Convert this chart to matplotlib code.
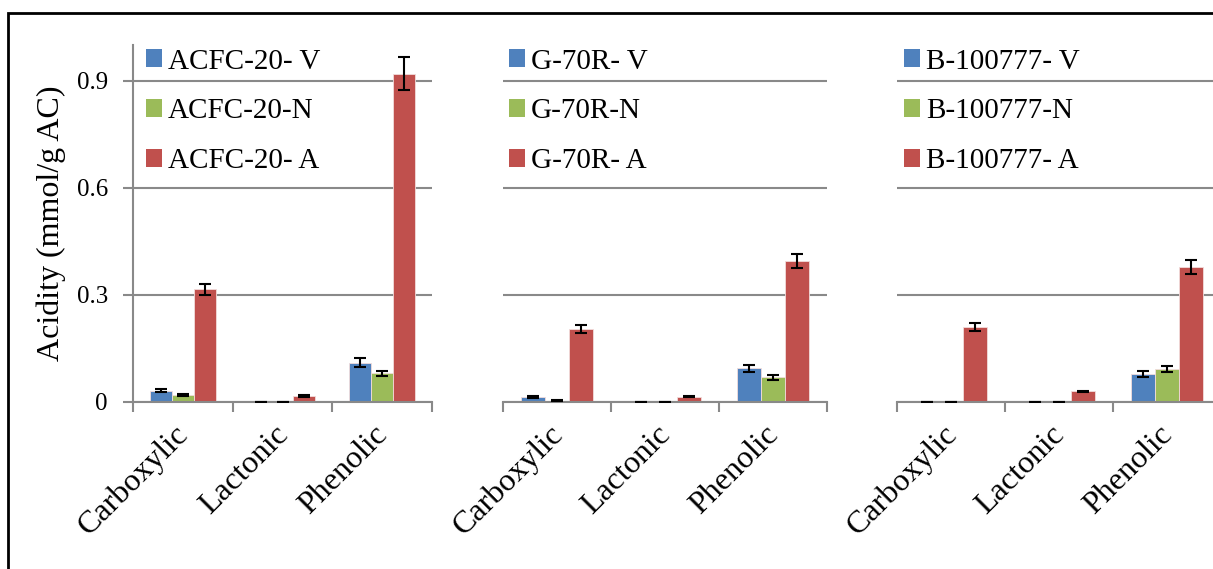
import numpy as np
import matplotlib.pyplot as plt
from matplotlib.patches import Patch, Rectangle
from matplotlib.transforms import ScaledTranslation

plt.rcParams['font.family'] = ['Liberation Serif', 'DejaVu Serif']

categories = ["Carboxylic", "Lactonic", "Phenolic"]
suffixes = ["- V", "-N", "- A"]
colors = ["#4F81BD", "#9BBB59", "#C0504D"]

# ACFC-20: values per treatment (V, N, A) over categories
acfc_v = [0.032, 0.0, 0.110]
acfc_n = [0.020, 0.0, 0.080]
acfc_a = [0.316, 0.017, 0.920]
acfc_v_err = [0.004, 0.0, 0.012]
acfc_n_err = [0.003, 0.0, 0.006]
acfc_a_err = [0.015, 0.002, 0.046]

# G-70R
g70_v = [0.014, 0.0, 0.094]
g70_n = [0.004, 0.0, 0.069]
g70_a = [0.204, 0.015, 0.395]
g70_v_err = [0.002, 0.0, 0.011]
g70_n_err = [0.001, 0.0, 0.007]
g70_a_err = [0.012, 0.002, 0.020]

# B-100777
b100_v = [0.0, 0.0, 0.078]
b100_n = [0.0, 0.0, 0.093]
b100_a = [0.209, 0.030, 0.378]
b100_v_err = [0.0, 0.0, 0.008]
b100_n_err = [0.0, 0.0, 0.008]
b100_a_err = [0.011, 0.002, 0.020]

panels = [
    ("ACFC-20", [acfc_v, acfc_n, acfc_a], [acfc_v_err, acfc_n_err, acfc_a_err]),
    ("G-70R", [g70_v, g70_n, g70_a], [g70_v_err, g70_n_err, g70_a_err]),
    ("B-100777", [b100_v, b100_n, b100_a], [b100_v_err, b100_n_err, b100_a_err]),
]

W, H = 1213, 569
fig = plt.figure(figsize=(W / 100, H / 100), dpi=100)

grid_c = "#898989"
lefts = [133, 503, 897]
widths = [299, 324, 324]
leg_off = [13, 6, 7]
bottom_px, top_px = 402, 45

x = np.arange(len(categories))
bw = 0.22
for i, (name, vals, errs) in enumerate(panels):
    ax = fig.add_axes([lefts[i] / W, 1 - bottom_px / H, widths[i] / W, (bottom_px - top_px) / H])
    for j in range(3):
        ax.bar(x + (j - 1) * bw, vals[j], bw, color=colors[j], edgecolor="#f2dcdb",
               linewidth=0.6, zorder=2, yerr=errs[j],
               error_kw=dict(ecolor="black", elinewidth=1.5, capsize=4, capthick=1.5, zorder=3))
    ax.set_xlim(-0.5, 2.5)
    ax.set_ylim(0, 1.0)
    ax.set_yticks([0, 0.3, 0.6, 0.9])
    ax.set_yticklabels(["0", "0.3", "0.6", "0.9"])
    ax.yaxis.grid(True, color=grid_c, linewidth=1.5, zorder=0)
    ax.set_axisbelow(True)
    for s in ["top", "right"]:
        ax.spines[s].set_visible(False)
    ax.spines["bottom"].set_color(grid_c)
    ax.spines["bottom"].set_linewidth(1.5)
    ax.spines["left"].set_color(grid_c)
    ax.spines["left"].set_linewidth(1.5)
    # category separators as ticks, names placed under each category
    ax.set_xticks([-0.5, 0.5, 1.5, 2.5])
    ax.set_xticklabels([])
    ax.tick_params(axis="x", length=7, width=1.5, color=grid_c, direction="out")
    lab_tr = ax.get_xaxis_transform() + ScaledTranslation(-9 / 100, -18 / 100, fig.dpi_scale_trans)
    for xi, cat in zip(x, categories):
        ax.text(xi, 0, cat, transform=lab_tr, rotation=45, ha="right", va="top",
                rotation_mode="anchor", fontsize=23)
    ax.tick_params(axis="y", length=7, width=1.5, color=grid_c, labelsize=18, pad=11)
    if i == 0:
        ax.set_ylabel("Acidity (mmol/g AC)", fontsize=23, labelpad=8)
    else:
        ax.spines["left"].set_visible(False)
        ax.tick_params(axis="y", length=0, labelleft=False)
    handles = [Patch(facecolor=colors[j], edgecolor="none") for j in range(3)]
    labels = [name + s for s in suffixes]
    ax.legend(handles, labels, loc="upper left",
              bbox_to_anchor=(leg_off[i] / widths[i], 0.99),
              frameon=False, fontsize=21, handlelength=0.55, handleheight=0.55,
              handletextpad=0.2, labelspacing=0.82, borderpad=0, borderaxespad=0)

fig.patches.append(Rectangle((8 / W, -0.2), 1.2, 1.2 - 13 / H, transform=fig.transFigure,
                             fill=False, edgecolor="black", linewidth=2))
fig.savefig("out.png", dpi=100)
